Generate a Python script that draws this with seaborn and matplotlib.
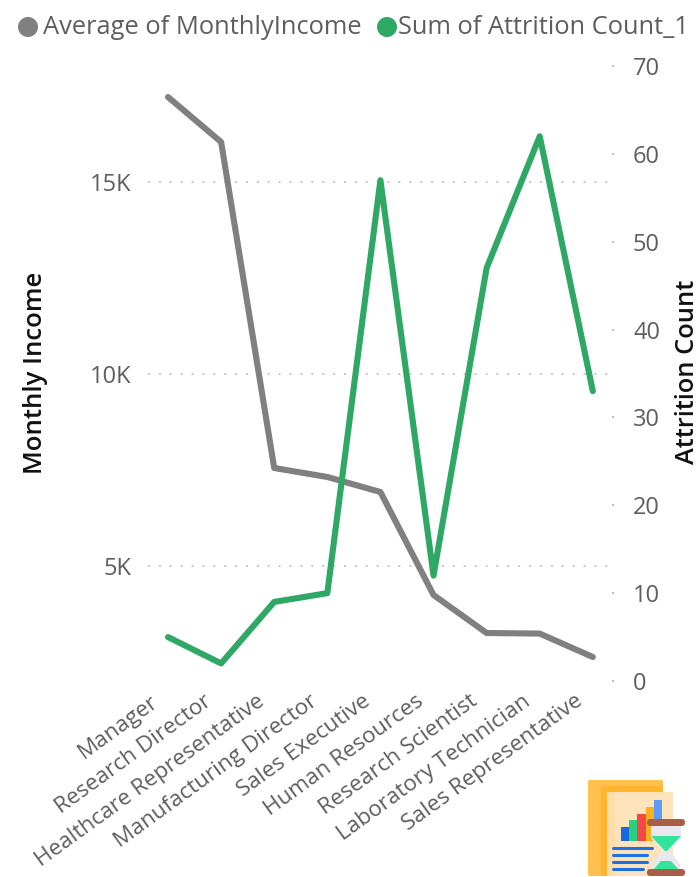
import matplotlib
matplotlib.use("Agg")
import matplotlib.pyplot as plt
import seaborn as sns
import pandas as pd
from matplotlib.patches import Rectangle, FancyBboxPatch, Polygon, Circle
from matplotlib.lines import Line2D
from matplotlib.path import Path
from matplotlib.transforms import ScaledTranslation

roles = ["Manager", "Research Director", "Healthcare Representative",
         "Manufacturing Director", "Sales Executive", "Human Resources",
         "Research Scientist", "Laboratory Technician", "Sales Representative"]
income = [17213, 16042, 7552, 7318, 6927, 4245, 3255, 3240, 2630]
attrition = [5, 2, 9, 10, 57, 12, 47, 62, 33]
income_ticks = [5000, 10000, 15000]
income_labels = ["5K", "10K", "15K"]
attrition_ticks = [0, 10, 20, 30, 40, 50, 60, 70]
GREY, GREEN, TXT = "#808080", "#2FA866", "#605E5C"

sns.set_theme(style="white")
plt.rcParams["font.family"] = ["Open Sans", "Noto Sans", "DejaVu Sans"]
W, H = 700, 877
fig = plt.figure(figsize=(W/100, H/100), dpi=100, facecolor="white")
def box(l, t, r, b):
    return [l/W, 1-b/H, (r-l)/W, (b-t)/H]

ax = fig.add_axes(box(148, 66, 608, 681))
df = pd.DataFrame({"role": roles, "income": income, "attrition": attrition})
df["x"] = range(len(df))
sns.lineplot(data=df, x="x", y="income", ax=ax, color=GREY, lw=4.4,
             solid_joinstyle="round", solid_capstyle="round", zorder=3, clip_on=False)
ax.set_xlim(-0.377, 8.286)
ax.set_ylim(2005, 18021)
ax.set_yticks(income_ticks, income_labels)
ax.set_xticks(range(len(roles)))
ax.set_xticklabels(roles, rotation=36, ha="right", rotation_mode="anchor",
                   fontsize=16.2, color=TXT)
ax.tick_params(axis="x", length=0, pad=7)
ax.tick_params(axis="y", length=0, pad=12, labelsize=17, labelcolor=TXT)
shift = ScaledTranslation(-18/100, 0, fig.dpi_scale_trans)
for lab in ax.get_xticklabels():
    lab.set_transform(lab.get_transform() + shift)
ax.yaxis.grid(True, color="#C8C6C4", lw=1.4, ls=(0, (1, 4.6)))
ax.xaxis.grid(False)
sns.despine(ax=ax, left=True, bottom=True, right=True, top=True)
ax.set_xlabel("")
ax.set_ylabel("")
ax.patch.set_alpha(0)

ax2 = ax.twinx()
sns.lineplot(data=df, x="x", y="attrition", ax=ax2, color=GREEN, lw=4.4,
             solid_joinstyle="round", solid_capstyle="round", zorder=4, clip_on=False)
ax2.set_ylim(0, 70)
ax2.set_yticks(attrition_ticks)
ax2.tick_params(axis="y", direction="out", length=8, width=1.3, color="#B8B6B4",
                pad=10, labelsize=17, labelcolor=TXT)
for t in ax2.yaxis.get_major_ticks():
    t.tick2line.set_marker(Path([(0.75, 0), (1, 0)]))
ax2.set_xlabel("")
ax2.set_ylabel("")
ax2.grid(False)
sns.despine(ax=ax2, left=True, bottom=True, right=True, top=True)

fig.text(36/W, 1-373/H, "Monthly Income", rotation=90, ha="center", va="center",
         fontsize=18.5, color="#111111", fontweight="semibold")
fig.text(688/W, 1-372/H, "Attrition Count", rotation=90, ha="center", va="center",
         fontsize=18.3, color="#111111", fontweight="semibold")

# legend
ov = fig.add_axes([0, 0, 1, 1], zorder=10)
ov.set_xlim(0, W); ov.set_ylim(H, 0); ov.axis("off"); ov.patch.set_alpha(0)
ov.add_patch(Circle((28, 27), 10, color=GREY, lw=0))
ov.text(43, 27, "Average of MonthlyIncome", fontsize=18.4, color=TXT, va="center", ha="left")
ov.add_patch(Circle((387, 27), 10, color=GREEN, lw=0))
ov.text(398, 27, "Sum of Attrition Count_1", fontsize=18.3, color=TXT, va="center", ha="left")

# report icon
def rr(x0, y0, x1, y1, c, rad=3, z=1):
    ov.add_patch(FancyBboxPatch((x0+rad, y0+rad), x1-x0-2*rad, y1-y0-2*rad,
                 boxstyle=f"round,pad={rad},rounding_size={rad}", fc=c, ec="none", zorder=z))
rr(588, 780, 663, 876, "#FFC04D", 2, 11)
ov.add_patch(Rectangle((601, 786), 62, 90, fc="#FFB52E", ec="none", zorder=11))
ov.add_patch(Rectangle((607, 792), 66, 84, fc="#FFE4BB", ec="none", zorder=12))
ov.add_patch(Rectangle((607, 792), 8, 84, fc="#FFDDA8", ec="none", zorder=12))
for x0, x1, top, c in [(621, 629, 827, "#1668E3"), (629, 637, 820, "#26D07C"),
                       (637, 646, 814, "#F44848"), (646, 654, 807, "#FFB01F"),
                       (654, 662, 800, "#5B9BF5")]:
    ov.add_patch(Rectangle((x0, top), x1-x0, 841-top, fc=c, ec="none", zorder=13))
for y, x1 in [(848, 652), (855, 647), (862, 647), (869, 643)]:
    ov.add_line(Line2D([613, x1], [y, y], color="#1F6FE5", lw=2.2, zorder=13))
ov.add_patch(Polygon([(651, 825), (681, 825), (681, 838), (669, 850), (680, 864), (680, 871),
                      (651, 871), (651, 864), (663, 850), (651, 838)], fc="#E9E8EE", ec="none", zorder=14))
ov.add_patch(Polygon([(651, 836), (681, 836), (667, 851), (665, 851)], fc="#33E39A", ec="none", zorder=15))
ov.add_patch(Polygon([(654, 869), (678, 869), (671, 861), (661, 861)], fc="#33E39A", ec="none", zorder=15))
rr(647, 819, 685, 826, "#A85F47", 3, 16)
rr(647, 869, 685, 876, "#A85F47", 3, 16)

fig.savefig("out.png", dpi=100, facecolor="white")
